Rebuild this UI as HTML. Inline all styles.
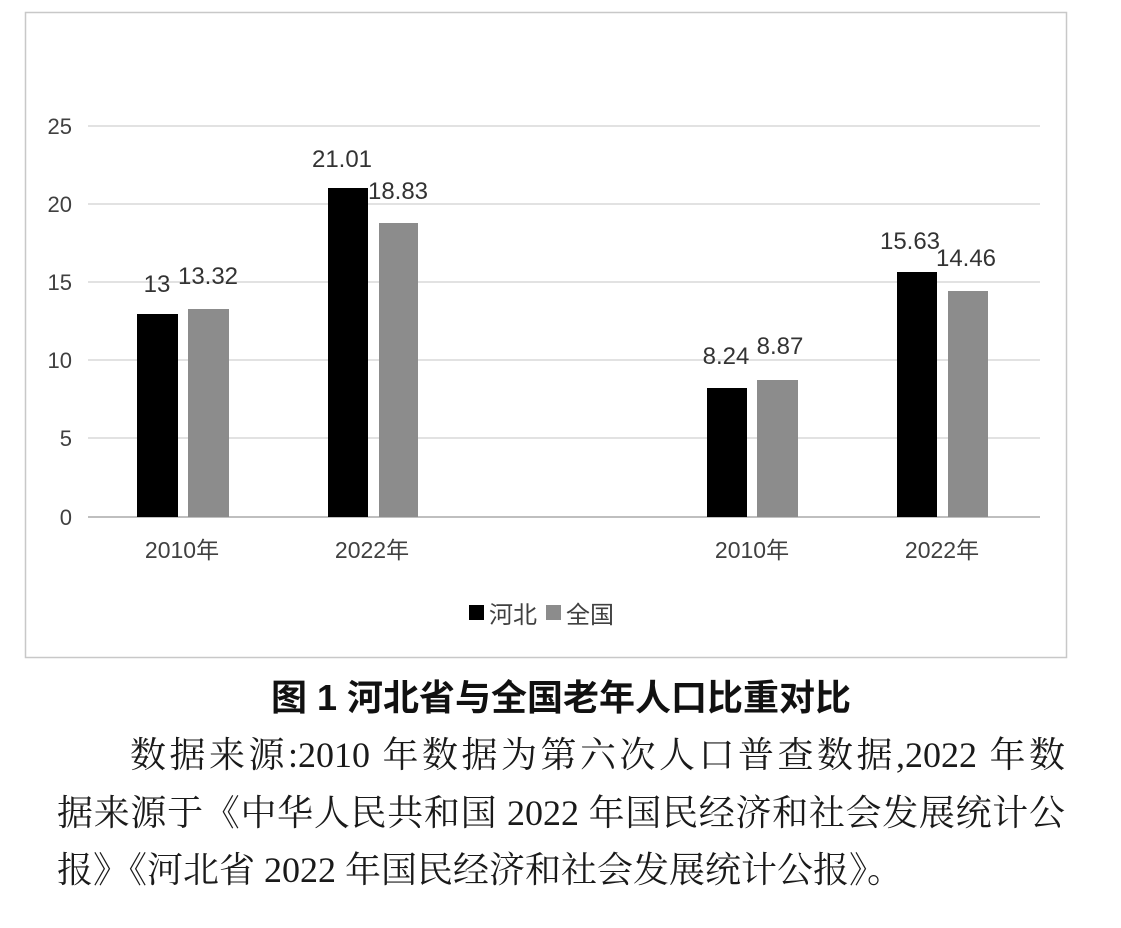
<!DOCTYPE html>
<html><head><meta charset="utf-8"><style>
body{margin:0;background:#fff;width:1121px;height:928px;position:relative;overflow:hidden}
.t{position:absolute;font-family:"Liberation Serif","Noto Serif CJK SC",serif;font-size:36px;line-height:40px;color:#1a1a1a;text-align:justify;text-align-last:justify;white-space:nowrap}
</style></head><body>
<svg width="1121" height="928" style="position:absolute;left:0;top:0" font-family="Liberation Sans, Noto Sans CJK SC, sans-serif">
<rect x="25.5" y="12.5" width="1041" height="645" fill="#fff" stroke="#c8c8c8" stroke-width="1.5"/>
<g stroke="#d9d9d9" stroke-width="1.5">
<line x1="88" x2="1040" y1="126" y2="126"/><line x1="88" x2="1040" y1="204" y2="204"/>
<line x1="88" x2="1040" y1="282" y2="282"/><line x1="88" x2="1040" y1="360" y2="360"/>
<line x1="88" x2="1040" y1="438" y2="438"/></g>
<line x1="88" x2="1040" y1="517" y2="517" stroke="#bfbfbf" stroke-width="2"/>
<g font-size="22" fill="#404040" text-anchor="end">
<text x="72" y="134">25</text><text x="72" y="212">20</text><text x="72" y="290">15</text>
<text x="72" y="368">10</text><text x="72" y="446">5</text><text x="72" y="525">0</text></g>
<g fill="#000">
<rect x="137" y="314" width="41" height="203"/><rect x="328" y="188" width="40" height="329"/>
<rect x="707" y="388" width="40" height="129"/><rect x="897" y="272" width="40" height="245"/></g>
<g fill="#8c8c8c">
<rect x="188" y="309" width="41" height="208"/><rect x="379" y="223" width="39" height="294"/>
<rect x="757" y="380" width="41" height="137"/><rect x="948" y="291" width="40" height="226"/></g>
<g font-size="24" fill="#333" text-anchor="middle">
<text x="157" y="292">13</text><text x="208" y="284">13.32</text>
<text x="342" y="167">21.01</text><text x="398" y="199">18.83</text>
<text x="726" y="364">8.24</text><text x="780" y="354">8.87</text>
<text x="910" y="249">15.63</text><text x="966" y="266">14.46</text></g>
<g font-size="23" fill="#404040" text-anchor="middle">
<text x="182" y="558">2010年</text><text x="372" y="558">2022年</text>
<text x="752" y="558">2010年</text><text x="942" y="558">2022年</text></g>
<rect x="469" y="605" width="15" height="15" fill="#000"/>
<text x="489" y="623" font-size="24" fill="#404040">河北</text>
<rect x="546" y="605" width="15" height="15" fill="#8c8c8c"/>
<text x="566" y="623" font-size="24" fill="#404040">全国</text>
<text x="561" y="710" font-size="36" font-weight="bold" fill="#111" text-anchor="middle">图 1 河北省与全国老年人口比重对比</text>
</svg>
<div class="t" style="left:130px;top:735px;width:935px">数据来源:2010 年数据为第六次人口普查数据,2022 年数</div>
<div class="t" style="left:57px;top:793px;width:1008px">据来源于《中华人民共和国 2022 年国民经济和社会发展统计公</div>
<div class="t" style="left:57px;top:850px;text-align-last:left">报》《河北省 2022 年国民经济和社会发展统计公报》。</div>
</body></html>
